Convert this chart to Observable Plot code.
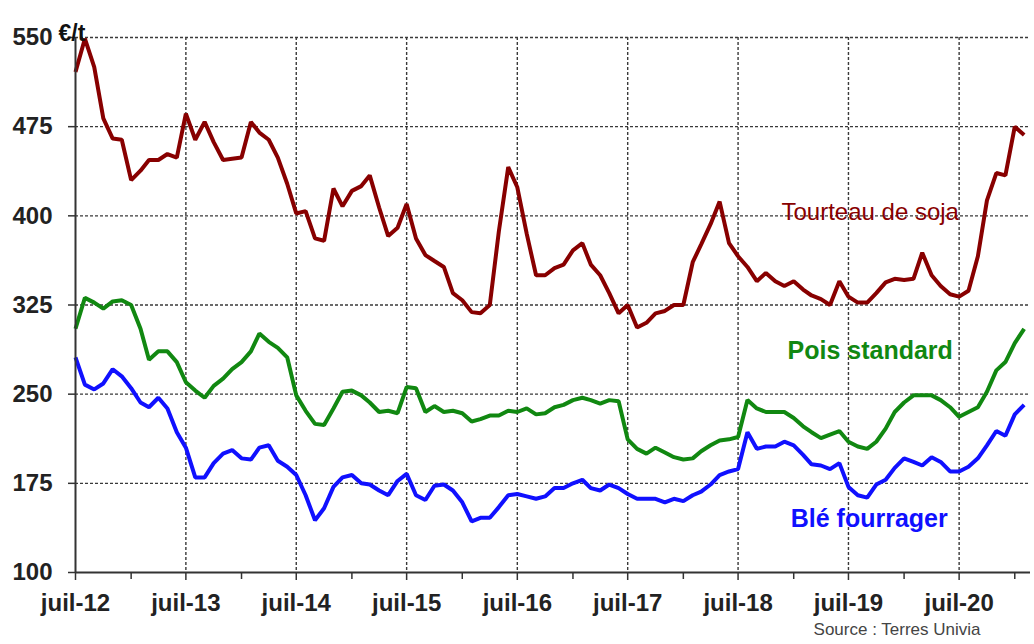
<!DOCTYPE html>
<html>
<head>
<meta charset="utf-8">
<script src="https://cdn.jsdelivr.net/npm/d3@7"></script>
<script src="https://cdn.jsdelivr.net/npm/@observablehq/plot@0.6"></script>
<style>
  html, body { margin: 0; padding: 0; background: #fff; }
  #chart { width: 1034px; height: 644px; }
</style>
</head>
<body>
<div id="chart"></div>
<script>
// Monthly prices (€/t), July 2012 .. February 2021
const startMonth = "2012-07-01";
const soja = [521,549,525,482,465,464,430,438,447,447,452,449,
  486,464,479,462,447,448,449,479,470,464,449,427,
  402,404,381,379,423,408,421,425,434,407,383,390,
  410,381,367,362,357,335,329,319,318,325,387,441,
  424,385,350,350,356,359,371,377,359,350,335,318,
  325,306,310,318,320,325,325,361,376,393,412,377,
  366,357,345,352,345,341,345,338,333,330,325,345,
  332,327,327,335,344,347,346,347,369,350,341,334,
  332,337,366,413,436,434,475,468];
const pois = [305,331,327,322,328,329,325,305,279,286,286,277,
  260,253,247,257,263,271,277,286,301,294,289,281,
  249,236,225,224,238,252,253,249,243,235,236,234,
  256,255,235,240,235,236,234,227,229,232,232,236,
  235,238,233,234,239,241,245,247,245,242,245,244,
  212,204,200,205,201,197,195,196,202,207,211,212,
  214,245,238,235,235,235,230,223,218,213,216,219,
  210,206,204,210,221,235,243,249,249,249,245,239,
  231,235,239,252,270,277,293,305];
const ble = [281,258,254,259,271,265,255,243,239,247,238,218,
  205,180,180,192,200,203,196,195,205,207,194,189,
  182,165,144,154,172,180,182,175,174,169,165,177,
  183,165,161,173,174,169,159,143,146,146,155,165,
  166,164,162,164,171,171,175,178,171,169,174,171,
  166,162,162,162,159,162,160,165,168,174,182,185,
  187,218,204,206,206,210,207,199,191,190,187,192,
  172,165,163,174,178,188,196,193,190,197,193,185,
  185,189,196,207,219,215,233,241];
const seriesNames = ["Tourteau de soja", "Pois standard", "Blé fourrager"];
const yTicks = [100, 175, 250, 325, 400, 475, 550];
const xTickLabels = ["juil-12","juil-13","juil-14","juil-15","juil-16","juil-17","juil-18","juil-19","juil-20"];
const unitLabel = "€/t";
const sourceText = "Source : Terres Univia";

const start = new Date(startMonth + "T00:00:00Z");
const monthDate = i => d3.utcMonth.offset(start, i);
const julyDates = xTickLabels.map((_, k) => monthDate(12 * k));
const janDates = xTickLabels.map((_, k) => monthDate(12 * k + 6));
const labelOf = new Map(julyDates.map((d, i) => [+d, xTickLabels[i]]));

const colors = ["#880000", "#118811", "#1010ff"];
const rows = [];
[soja, pois, ble].forEach((arr, s) => arr.forEach((v, i) => rows.push({date: monthDate(i), value: v, series: seriesNames[s]})));

const font = "'Liberation Sans', Arial, sans-serif";
const gridStyle = {stroke: "#3a3a3a", strokeOpacity: 1, strokeWidth: 1.4, strokeDasharray: "3,2"};

const chart = Plot.plot({
  width: 1034,
  height: 644,
  marginLeft: 75,
  marginRight: 4,
  marginTop: 37,
  marginBottom: 72,
  style: {fontFamily: font, background: "#fff", color: "#222"},
  x: {type: "utc", domain: [start, new Date("2021-02-22T00:00:00Z")]},
  y: {domain: [100, 550]},
  color: {domain: seriesNames, range: colors},
  marks: [
    Plot.gridY(yTicks.filter(d => d > 100), gridStyle),
    Plot.gridX(julyDates.slice(1), gridStyle),
    Plot.axisY(yTicks, {tickSize: 7, tickPadding: 16, fontSize: 24, fontWeight: "bold", label: null, stroke: "#333", strokeWidth: 1.5}),
    Plot.axisX(janDates, {tickSize: 7, tickFormat: () => "", label: null, stroke: "#333", strokeWidth: 1.5}),
    Plot.axisX(julyDates, {tickSize: 8, tickPadding: 13, tickFormat: d => labelOf.get(+d), fontSize: 24, fontWeight: "bold", label: null, stroke: "#333", strokeWidth: 1.5}),
    Plot.lineY(rows, {x: "date", y: "value", z: "series", stroke: "series", strokeWidth: 4, strokeLinejoin: "miter", strokeLinecap: "butt"}),
    Plot.ruleY([100], {stroke: "#333", strokeWidth: 2}),
    Plot.ruleX([start], {stroke: "#333", strokeWidth: 2}),
    Plot.text([seriesNames[0]], {x: monthDate(86), y: 403, text: d => d, fill: colors[0], fontSize: 24, fontWeight: 500, textAnchor: "middle", dx: 3}),
    Plot.text([seriesNames[1]], {x: monthDate(86), y: 286, text: d => d, fill: colors[1], fontSize: 25, fontWeight: "bold", textAnchor: "middle", dx: 3}),
    Plot.text([seriesNames[2]], {x: monthDate(86), y: 145, text: d => d, fill: colors[2], fontSize: 25, fontWeight: "bold", textAnchor: "middle", dx: 2}),
    Plot.text([unitLabel], {frameAnchor: "top-left", text: d => d, dx: -17, dy: -13, fontSize: 23, fontWeight: "bold", textAnchor: "start", fill: "#111"}),
    Plot.text([sourceText], {frameAnchor: "bottom-right", text: d => d, dx: -50, dy: 62, fontSize: 17, textAnchor: "end", fill: "#444"})
  ]
});
document.getElementById("chart").appendChild(chart);
</script>
</body>
</html>
